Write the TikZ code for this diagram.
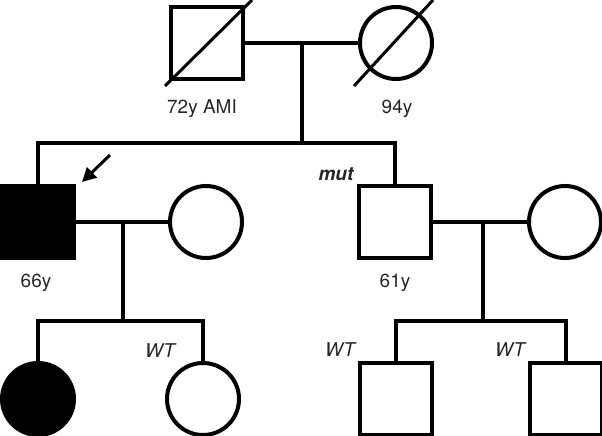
\documentclass[tikz,border=0pt]{standalone}
\usepackage{fontspec}
\setmainfont{TeX Gyre Heros}
\usetikzlibrary{arrows.meta,calc}
\tikzset{
  ind/.style={draw=black, line width=4pt, inner sep=0pt, minimum size=72pt, fill=white},
  male/.style={ind, rectangle},
  female/.style={ind, circle},
  aff/.style={fill=black},
  conn/.style={line width=4pt},
  lbl/.style={anchor=base, inner sep=0pt, font=\fontsize{19}{21}\selectfont, text=black!85},
}
\begin{document}
\begin{tikzpicture}[x=1pt,y=-1pt]
\useasboundingbox (0,0) rectangle (602,436);
% individuals
\node[male] (gf) at (207,43) {};
\node[female] (gm) at (396,43) {};
\node[male,aff] (p1) at (38,222) {};
\node[female] (w1) at (206,222) {};
\node[male] (p2) at (395,222) {};
\node[female] (w2) at (565,222) {};
\node[female,aff] (c1) at (38,399) {};
\node[female] (c2) at (203,399) {};
\node[male] (c3) at (396,399) {};
\node[male] (c4) at (566,399) {};
% deceased marks
\draw[line width=3pt] ($(gf.center)+(-42,43)$) -- ($(gf.center)+(45,-43)$);
\draw[line width=3pt] ($(gm.center)+(-42,43)$) -- ($(gm.center)+(37,-43)$);
% generation I
\coordinate (m1) at (302,43);
\coordinate (s1) at (302,143);
\draw[conn] (gf.east) -- (gm.west);
\draw[conn] (m1) -- (s1);
\draw[conn] (p1.north) -- (p1.north |- s1) -- (p2.north |- s1) -- (p2.north);
% generation II left
\coordinate (m2) at (123,222);
\coordinate (s2) at (123,321);
\draw[conn] (p1.east) -- (w1.west);
\draw[conn] (m2) -- (s2);
\draw[conn] (c1.north) -- (c1.north |- s2) -- (c2.north |- s2) -- (c2.north);
% generation II right
\coordinate (m3) at (483,222);
\coordinate (s3) at (483,321);
\draw[conn] (p2.east) -- (w2.west);
\draw[conn] (m3) -- (s3);
\draw[conn] (c3.north) -- (c3.north |- s3) -- (c4.north |- s3) -- (c4.north);
% proband arrow
\coordinate (arr) at (110,155);
\draw[line width=3pt, -{Triangle[length=14pt,width=14pt]}] (arr) -- ($(p1.north east)+(6,-2)$);
% labels
\node[lbl] (l1) at (202,113) {72y AMI};
\node[lbl] (l2) at (397,113) {94y};
\node[lbl] (l3) at (36,287) {66y};
\node[lbl] (l4) at (395,287) {61y};
\node[lbl, font=\fontsize{19}{21}\selectfont\bfseries\itshape] (l5) at (336,180) {mut};
\node[lbl, font=\fontsize{19}{21}\selectfont\itshape] (l6) at (160,357) {WT};
\node[lbl, font=\fontsize{19}{21}\selectfont\itshape] (l7) at (340,356) {WT};
\node[lbl, font=\fontsize{19}{21}\selectfont\itshape] (l8) at (510,356) {WT};
\end{tikzpicture}
\end{document}
